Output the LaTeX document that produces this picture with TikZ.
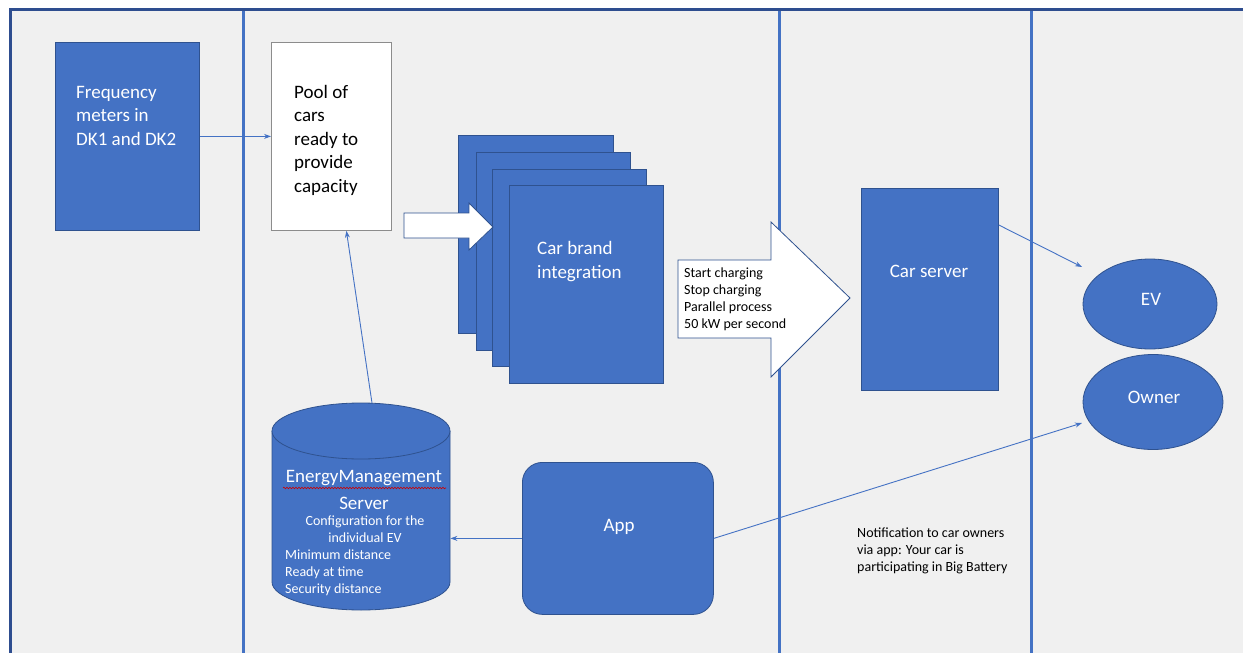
\documentclass[tikz,border=0pt]{standalone}
\usepackage{fontspec}
\setmainfont{Carlito}
\usetikzlibrary{arrows.meta,decorations.pathmorphing,shapes.geometric}
\definecolor{bfill}{HTML}{4472C4}
\definecolor{bline}{HTML}{2F528F}
\definecolor{bgc}{HTML}{F0F0F0}
\definecolor{framec}{HTML}{2E4D8F}
\begin{document}
\begin{tikzpicture}[x=1pt,y=-1pt,
  bluebox/.style={draw=bline, fill=bfill, line width=0.8pt, inner sep=0pt},
  conn/.style={draw=bfill, line width=0.9pt, -{Stealth[length=7pt,width=5pt]}},
  bigt/.style={font=\fontsize{19}{23.5}\selectfont, inner sep=0pt},
  smallt/.style={font=\fontsize{14}{17}\selectfont, inner sep=0pt},
  blockarrow/.style={draw=bline, fill=white, line width=0.8pt, line join=miter}]
\useasboundingbox (0,0) rectangle (1243,653);
\fill[white] (0,0) rectangle (1243,653);
\fill[bgc] (10,9) rectangle (1243,653);
\foreach \x in {243,779,1031} \draw[bfill, line width=3pt] (\x,9) -- (\x,653);
\draw[framec, line width=3pt] (10,653) -- (10,9) -- (1243,9);

% Frequency meters
\node[bluebox, minimum width=144pt, minimum height=188pt, anchor=north west] (freq) at (55,42) {};
\node[bigt, text=white, anchor=base west, align=left] (freqt) at (76,145) {Frequency\\meters in\\DK1 and DK2};

% Pool of cars
\node[draw=black!45, fill=white, line width=0.8pt, minimum width=120pt, minimum height=188pt, anchor=north west] (pool) at (271,42) {};
\node[bigt, anchor=base west, align=left] (poolt) at (294,192) {Pool of\\cars\\ready to\\provide\\capacity};

\draw[conn] (freq) -- (pool);

% stacked car brand boxes
\node[bluebox, minimum width=155pt, minimum height=198pt, anchor=north west] (cb1) at (458,135) {};
\node[bluebox, minimum width=154pt, minimum height=198pt, anchor=north west] (cb2) at (476,152) {};
\node[bluebox, minimum width=154pt, minimum height=197pt, anchor=north west] (cb3) at (492,169) {};
\node[bluebox, minimum width=154pt, minimum height=198pt, anchor=north west] (cb4) at (509,185) {};
\node[bigt, text=white, anchor=base west, align=left] (cbt) at (537,278) {Car brand\\integration};

% small white block arrow
\draw[blockarrow] (404,213) -- (469,213) -- (469,203) -- (493,227) -- (469,250) -- (469,238) -- (404,238) -- cycle;

% big white block arrow with text
\draw[blockarrow] (678,260) -- (771,260) -- (771,222) -- (850,298) -- (771,377) -- (771,338) -- (678,338) -- cycle;
\node[smallt, anchor=base west, align=left] (cmd) at (684,328) {Start charging\\Stop charging\\Parallel process\\50 kW per second};

% Car server
\node[bluebox, minimum width=137pt, minimum height=202pt, anchor=north west] (cs) at (861,188) {};
\node[bigt, text=white] (cst) at (929,271) {Car server};

% EV and Owner
\node[bluebox, ellipse, minimum width=134pt, minimum height=90pt] (ev) at (1150,304) {};
\node[bigt, text=white] (evt) at (1151,299) {EV};
\node[bluebox, ellipse, minimum width=140pt, minimum height=95pt] (owner) at (1153,402) {};
\node[bigt, text=white] (ownert) at (1154,397) {Owner};
\coordinate (evin) at (1082,267);
\coordinate (ownerin) at (1082,423);

\draw[conn] ([yshift=-37pt]cs.north east) -- (evin);

% App
\node[bluebox, rounded corners=20pt, minimum width=191pt, minimum height=152pt, anchor=north west] (app) at (522,462) {};
\node[bigt, text=white] (appt) at (619,527) {App};
\draw[conn] (app.east) -- (ownerin);

% Energy management cylinder
\fill[bfill] (272,431) -- (272,582) arc[start angle=180, end angle=360, x radius=89pt, y radius=28pt] -- (450,431) -- cycle;
\draw[bline, line width=0.8pt] (272,431) -- (272,582) arc[start angle=180, end angle=360, x radius=89pt, y radius=28pt] -- (450,431);
\draw[bline, fill=bfill, line width=0.8pt] (361,431) ellipse[x radius=89pt, y radius=28pt];
\node[inner sep=0pt, minimum width=178pt, minimum height=207pt, anchor=north west] (ems) at (272,403) {};
\coordinate (emstop) at (372,403);
\node[bigt, text=white] (emst1) at (364,478) {EnergyManagement};
\draw[red!80!black, line width=0.6pt, decorate, decoration={snake, amplitude=0.8pt, segment length=3pt}] (283,488) -- (446,488);
\node[bigt, text=white] (emst2) at (364,503) {Server};
\node[smallt, text=white, align=center, anchor=base] (emst3) at (365,542) {Configuration for the\\individual EV};
\node[smallt, text=white, align=left, anchor=base west] (emst4) at (285,593) {Minimum distance\\Ready at time\\Security distance};

\draw[conn] (app.west) -- (app.west -| ems.east);
\draw[conn] (emstop) -- ([xshift=15pt]pool.south);

% notification
\node[smallt, anchor=base west, align=left] (note) at (857,571) {Notification to car owners\\via app: Your car is\\participating in Big Battery};
\end{tikzpicture}
\end{document}
